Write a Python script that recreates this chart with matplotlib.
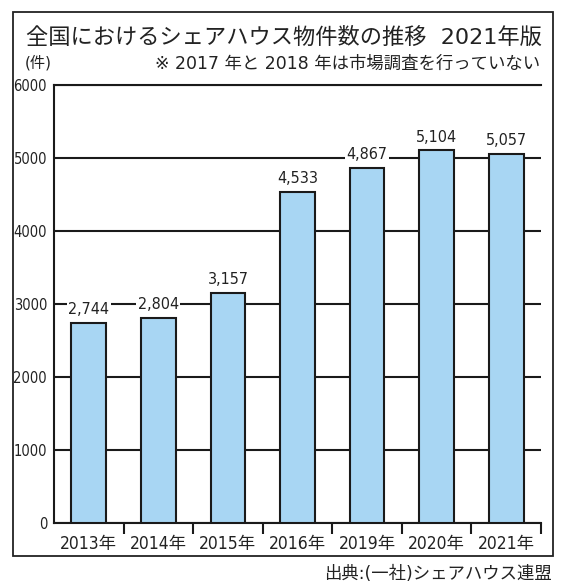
import numpy as np
import matplotlib
matplotlib.use("Agg")
import matplotlib.pyplot as plt
from matplotlib.patches import Rectangle

years = ["2013年", "2014年", "2015年", "2016年", "2019年", "2020年", "2021年"]
counts = [2744, 2804, 3157, 4533, 4867, 5104, 5057]
yticks = [0, 1000, 2000, 3000, 4000, 5000, 6000]

title = "全国におけるシェアハウス物件数の推移  2021年版"
note = "※ 2017 年と 2018 年は市場調査を行っていない"
unit = "(件)"
source = "出典:(一社)シェアハウス連盟"

jp = "Noto Sans CJK JP"
narrow = "DejaVu Sans"
plt.rcParams['font.family'] = [narrow, jp]

W, H = 568, 588
fig = plt.figure(figsize=(W / 100, H / 100), dpi=100)
fig.patch.set_facecolor("white")

# outer frame
fig.patches.append(Rectangle((13 / W, 1 - 556 / H), 540 / W, 544 / H,
                             transform=fig.transFigure, fill=False,
                             edgecolor="#222222", lw=1.3))

ax = fig.add_axes([54 / W, 1 - 523 / H, 487 / W, 438 / H])
x = np.arange(len(years))
ax.bar(x, counts, width=0.5, color="#a8d6f3", edgecolor="#1a1a1a", lw=1.5, zorder=3)
for xi, v in zip(x, counts):
    ax.text(xi, v + 80, f"{v:,}", ha="center", va="bottom", fontsize=11.5,
            family=narrow, stretch="condensed", color="#222222", zorder=5,
            bbox=dict(facecolor="white", edgecolor="none", pad=1))

ax.set_xlim(-0.5, len(years) - 0.5)
ax.set_ylim(0, 6000)
ax.set_yticks(yticks)
ax.set_yticklabels([str(t) for t in yticks], family=narrow, stretch="condensed", fontsize=10.5)
ax.yaxis.grid(True, color="#1a1a1a", lw=1.5, zorder=1)
ax.set_axisbelow(True)
ax.tick_params(axis="y", length=0, pad=5, colors="#222222")
ax.set_xticks(x)
ax.set_xticklabels(years, fontsize=12.5, color="#222222", stretch="condensed")
ax.tick_params(axis="x", which="major", length=0, pad=9)
ax.set_xticks(np.arange(0.5, len(years)), minor=True)
ax.tick_params(axis="x", which="minor", length=8, width=1.5, direction="out", color="#1a1a1a")
ax.spines["right"].set_visible(False)
for s in ["left", "bottom", "top"]:
    ax.spines[s].set_linewidth(1.5)
    ax.spines[s].set_color("#1a1a1a")

fig.text(284 / W, 1 - 37 / H, title, ha="center", va="center", fontsize=16, color="#222222")
fig.text(540 / W, 1 - 64 / H, note, ha="right", va="center", fontsize=12.5, color="#222222")
fig.text(38 / W, 1 - 63 / H, unit, ha="center", va="center", fontsize=11, color="#222222")
fig.text(552 / W, 1 - 574 / H, source, ha="right", va="center", fontsize=12.5, color="#222222")

fig.savefig("out.png", dpi=100)
